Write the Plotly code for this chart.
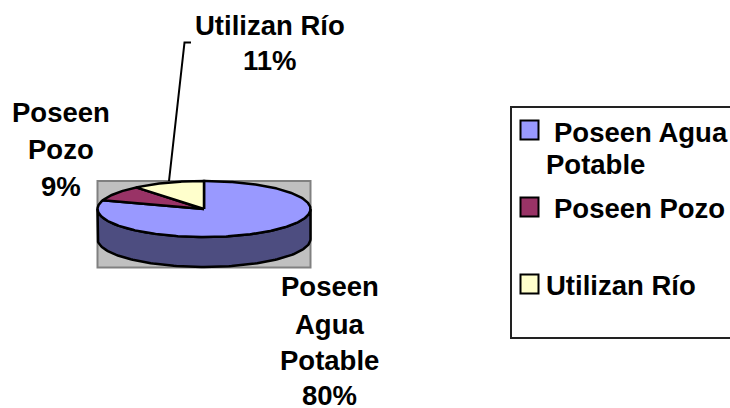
import numpy as np
import plotly.graph_objects as go

categories = ["Poseen Agua Potable", "Poseen Pozo", "Utilizan Río"]
values = [80, 9, 11]
colors = ["#9999FF", "#993366", "#FFFFCC"]
side_color = "#4D4D80"

W, H = 730, 408
CX, CY, RX, RY, DEPTH = 204, 209, 106.5, 28, 30
FONT = dict(family="Liberation Sans, Arial, sans-serif", size=27.5, color="black")
LINE = dict(color="black", width=2.5)


def ellipse(deg, cy=CY):
    a = np.radians(deg)
    return CX + RX * np.sin(a), cy - RY * np.cos(a)


fig = go.Figure()

# grey plot-area wall
fig.add_shape(type="rect", x0=97.5, x1=310.5, y0=181, y1=267.5,
              fillcolor="#C0C0C0", line=dict(color="#808080", width=2), layer="below")

# pie side (the visible lower half of the cylinder)
t = np.linspace(90, 270, 121)
tx, ty = ellipse(t)
bx, by = ellipse(t[::-1], CY + DEPTH)
fig.add_trace(go.Scatter(x=np.r_[tx, bx, tx[0]], y=np.r_[ty, by, ty[0]], mode="lines",
                         fill="toself", fillcolor=side_color,
                         line=LINE, hoverinfo="skip", showlegend=False))

# pie top slices: clockwise from twelve o'clock
total = sum(values)
start = 0.0
for name, v, c in zip(categories, values, colors):
    end = start + 360 * v / total
    a = np.linspace(start, end, max(int(v * 4), 8))
    ex, ey = ellipse(a)
    fig.add_trace(go.Scatter(x=np.r_[CX, ex, CX], y=np.r_[CY, ey, CY], mode="lines",
                             fill="toself", fillcolor=c, name=name,
                             line=LINE, showlegend=False,
                             hovertemplate=f"{name}: {v}%<extra></extra>"))
    start = end

# leader line for the river label
fig.add_shape(type="path", path="M 169 181 L 184.5 42.5 L 191 42.5",
              line=dict(color="black", width=2))


def text(x, y, s, anchor="center"):
    fig.add_annotation(x=x, y=y, text=f"<b>{s}</b>", showarrow=False, font=FONT,
                       xanchor=anchor, yanchor="middle", align=anchor)


# data labels
label_lines = [
    (269.5, [(25, categories[2]), (60, f"{values[2]}%")]),
    (60.5, [(112, "Poseen"), (149, "Pozo"), (186, f"{values[1]}%")]),
    (329.5, [(286, "Poseen"), (324, "Agua"), (360, "Potable"), (395.5, f"{values[0]}%")]),
]
for x, rows in label_lines:
    for y, s in rows:
        text(x, y, s)

# legend
fig.add_shape(type="rect", x0=511, x1=735, y0=107, y1=338,
              fillcolor="white", line=dict(color="#222222", width=2), layer="below")
for y0, c in zip([120.5, 197.5, 274.5], colors):
    fig.add_shape(type="rect", x0=520.5, x1=538.5, y0=y0, y1=y0 + 19,
                  fillcolor=c, line=dict(color="black", width=2))
text(552, 132, "Poseen Agua", "left")
text(544, 164, "Potable", "left")
text(552, 208, "Poseen Pozo", "left")
text(544, 285, categories[2], "left")

fig.update_xaxes(range=[0, W], visible=False, fixedrange=True)
fig.update_yaxes(range=[H, 0], visible=False, fixedrange=True)
fig.update_layout(width=W, height=H, margin=dict(l=0, r=0, t=0, b=0),
                  paper_bgcolor="white", plot_bgcolor="white", showlegend=False)
fig.write_html("out.html", config={"displayModeBar": False},
               post_script="document.body.style.margin='0';document.body.style.overflow='hidden';")
